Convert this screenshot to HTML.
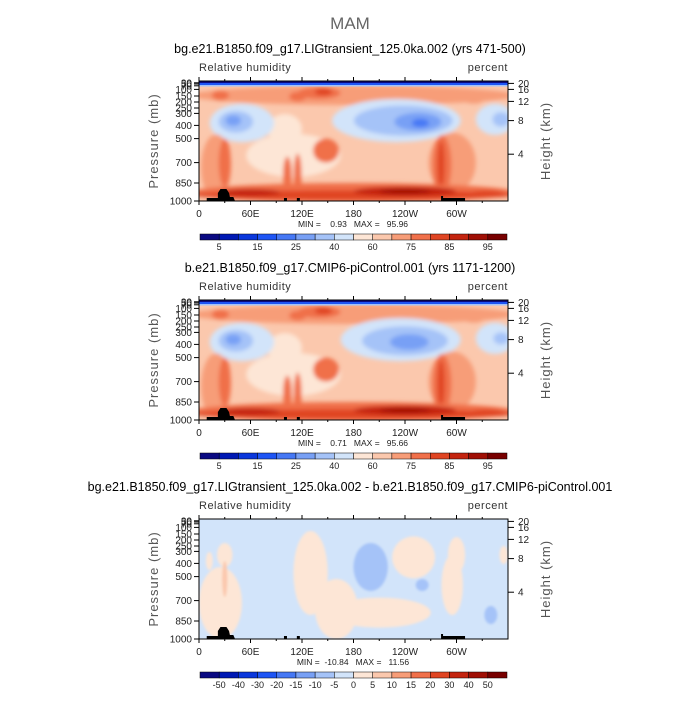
<!DOCTYPE html>
<html><head><meta charset="utf-8"><style>
body{margin:0;background:#fff;}
svg text{font-family:"Liberation Sans",sans-serif;white-space:pre;}
</style></head><body>
<svg id="chart" width="700" height="700" viewBox="0 0 700 700" xmlns="http://www.w3.org/2000/svg" xml:space="preserve">
<defs>
<filter id="bl" x="-50%" y="-50%" width="200%" height="200%"><feGaussianBlur stdDeviation="2.2"/></filter>
<filter id="bl2" x="-50%" y="-50%" width="200%" height="200%"><feGaussianBlur stdDeviation="1.2"/></filter>
</defs>
<text x="350" y="29" font-size="17" fill="#666" text-anchor="middle">MAM</text>
</svg>
<script>
const NS='http://www.w3.org/2000/svg';
const svg=document.getElementById('chart');
function el(t,a,p){const e=document.createElementNS(NS,t);for(const k in a)e.setAttribute(k,a[k]);(p||svg).appendChild(e);return e;}

// data arrays
const lonTicks=[0,60,120,180,240,300];
const lonLabels=['0','60E','120E','180','120W','60W'];
const presTicks=[1000,850,700,500,400,300,250,200,150,100,70,50,30];
const presFrac=[1,0.85,0.68,0.48,0.37,0.27,0.225,0.175,0.125,0.07,0.04,0.025,0.015];
const heightTicks=[20,16,12,8,4];
const heightFrac=[0.02,0.07,0.17,0.33,0.61];
const rhColors=['#0a0a82','#0019b4','#0a37dc','#1e55f5','#4678f5','#78a0f5','#a5c3f8','#d2e4fa','#fde6d6','#fbc8ad','#f79d78','#f0704a','#e04523','#c4240f','#a00f05','#780000'];
const rhLabels=['5','15','25','40','60','75','85','95'];
const diffLabels=['-50','-40','-30','-20','-15','-10','-5','0','5','10','15','20','30','40','50'];
const diffColors=['#0a0a82','#0019b4','#0a37dc','#1e55f5','#4678f5','#78a0f5','#a5c3f8','#d2e4fa','#fde6d6','#fbc8ad','#f79d78','#f0704a','#e04523','#c4240f','#a00f05','#780000'];
// blobs: [lon, presFrac, lonWidth, fracHeight, colorIndex]
const rhBlobs1=[[180,0.12,380,0.16,10],[25,0.12,20,0.08,11],[140,0.1,50,0.1,11],[145,0.09,20,0.06,12],[115,0.13,20,0.08,11],[320,0.15,25,0.08,10],
[110,0.62,110,0.36,8],[100,0.4,40,0.25,8],
[50,0.35,75,0.32,7],[43,0.34,40,0.18,6],[40,0.33,18,0.09,5],
[230,0.33,150,0.36,7],[238,0.33,115,0.25,6],[255,0.34,55,0.15,5],[258,0.35,20,0.07,4],[345,0.32,45,0.26,7],[352,0.32,20,0.12,6],
[20,0.72,35,0.55,10],[30,0.68,14,0.4,11],[103,0.78,10,0.3,11],[115,0.78,9,0.35,11],[148,0.58,30,0.2,11],
[295,0.68,55,0.5,10],[283,0.7,22,0.5,11],[282,0.7,8,0.4,12],[180,0.93,380,0.16,11],[180,0.95,380,0.08,12],[240,0.92,120,0.08,13],[240,0.92,60,0.04,14],[60,0.93,70,0.06,13],[335,0.94,40,0.06,12]];
const rhBlobs2=[[180,0.12,380,0.16,10],[25,0.12,20,0.08,11],[140,0.1,50,0.1,11],[145,0.09,20,0.06,12],[115,0.13,20,0.08,11],[320,0.15,25,0.08,10],
[110,0.62,110,0.36,8],[100,0.4,40,0.25,8],
[50,0.35,75,0.32,7],[43,0.34,40,0.18,6],[40,0.33,18,0.09,5],
[235,0.33,140,0.36,7],[240,0.34,100,0.24,6],[245,0.35,45,0.13,5],[345,0.32,45,0.26,7],[352,0.32,18,0.1,6],
[20,0.72,35,0.55,10],[30,0.68,14,0.4,11],[103,0.78,10,0.3,11],[115,0.78,9,0.35,11],[148,0.58,30,0.2,11],
[295,0.68,55,0.5,10],[283,0.7,22,0.5,11],[282,0.7,8,0.4,12],[180,0.93,380,0.16,11],[180,0.95,380,0.08,12],[240,0.92,120,0.08,13],[240,0.92,60,0.04,14],[60,0.93,70,0.06,13],[335,0.94,40,0.06,12]];
const diffBlobs=[[25,0.7,50,0.6,8],[30,0.3,18,0.2,8],[12,0.35,8,0.15,8],[130,0.45,40,0.7,8],[160,0.75,50,0.5,8],[210,0.78,120,0.25,8],
[250,0.32,50,0.35,8],[295,0.55,25,0.5,8],[300,0.3,20,0.3,8],[355,0.3,10,0.15,8],[200,0.4,40,0.4,6],[260,0.55,15,0.1,6],[340,0.8,15,0.15,6],[30,0.5,6,0.3,9]];

const X0=199,W=309,H=120;
function xS(lon){return X0+lon/360*W;}
function yS(top,f){return top+f*H;}

function panel(top,title,blobs,bg,cbColors,cbLabels,minmax,idx,diff){
  const g=el('g',{});
  
  
  const t=el('text',{x:350,y:top-28,'font-size':12.5,'text-anchor':'middle',fill:'#000'},g);t.textContent=title;
  
  const vn=el('text',{x:199,y:top-10,'font-size':11,fill:'#333','letter-spacing':'0.5'},g);vn.textContent='Relative humidity';
  
  const un=el('text',{x:508,y:top-10,'font-size':11,fill:'#333','text-anchor':'end','letter-spacing':'0.5'},g);un.textContent='percent';
  
  const cp=el('clipPath',{id:'cp'+idx},g);el('rect',{x:X0,y:top,width:W,height:H},cp);
  const f=el('g',{'clip-path':'url(#cp'+idx+')'},g);
  
  el('rect',{x:X0,y:top,width:W,height:H,fill:bg},f);
  const bf=el('g',{filter:diff?'url(#bl2)':'url(#bl)'},f);
  for(const b of blobs){
    const e=el('ellipse',{cx:xS(b[0]),cy:yS(top,b[1]),rx:b[2]/360*W/2,ry:b[3]*H/2,fill:cbColors[b[4]]},bf);
    
  }
  if(!diff){
    el('rect',{x:X0,y:top,width:W,height:2,fill:'#0a0a82'},f);
    el('rect',{x:X0,y:top+2,width:W,height:2,fill:'#1e55f5'},f);
    el('rect',{x:X0,y:top+4,width:W,height:1.5,fill:'#a5c3f8'},f);
  }
  const topo=el('path',{d:`M${xS(9)},${top+H} L${xS(9)},${top+H-3} L${xS(22)},${top+H-3} L${xS(22)},${top+H-8} L${xS(25)},${top+H-12} L${xS(32)},${top+H-12} L${xS(35)},${top+H-8} L${xS(36)},${top+H-4} L${xS(40)},${top+H-4} L${xS(42)},${top+H} Z M${xS(99)},${top+H} v-3 h3 v3Z M${xS(114)},${top+H} v-3 h3 v3Z M${xS(282)},${top+H} v-5 h2 v2 h22 v3Z`,fill:'#000'},f);
  
  el('rect',{x:X0,y:top,width:W,height:H,fill:'none',stroke:'#000','stroke-width':1},g);
  lonTicks.forEach((l,i)=>{
    el('line',{x1:xS(l),y1:top+H,x2:xS(l),y2:top+H+4,stroke:'#000'},g);
    el('line',{x1:xS(l),y1:top,x2:xS(l),y2:top-4,stroke:'#000'},g);
    el('line',{x1:xS(l+30),y1:top+H,x2:xS(l+30),y2:top+H+2,stroke:'#000'},g);
    el('line',{x1:xS(l+30),y1:top,x2:xS(l+30),y2:top-2,stroke:'#000'},g);
    const tx=el('text',{x:xS(l),y:top+H+16,'font-size':10,'text-anchor':'middle',fill:'#222'},g);tx.textContent=lonLabels[i];
    
  });
  presTicks.forEach((p,i)=>{
    const y=yS(top,presFrac[i]);
    el('line',{x1:X0,y1:y,x2:X0-5,y2:y,stroke:'#000'},g);
    const tx=el('text',{x:X0-7,y:y+3.5,'font-size':10,'text-anchor':'end',fill:'#222'},g);tx.textContent=p;
    
  });
  heightTicks.forEach((h,i)=>{
    const y=yS(top,heightFrac[i]);
    el('line',{x1:X0+W,y1:y,x2:X0+W+6,y2:y,stroke:'#000'},g);
    const tx=el('text',{x:X0+W+10,y:y+3.5,'font-size':10,fill:'#222'},g);tx.textContent=h;
    
  });
  const yl=el('text',{x:0,y:0,'font-size':13,'text-anchor':'middle',fill:'#555','letter-spacing':'1',transform:`translate(158,${top+60}) rotate(-90)`},g);yl.textContent='Pressure (mb)';
  
  const yr=el('text',{x:0,y:0,'font-size':13,'text-anchor':'middle',fill:'#555','letter-spacing':'1',transform:`translate(550,${top+60}) rotate(-90)`},g);yr.textContent='Height (km)';
  
  const mm=el('text',{x:353,y:top+H+26,'font-size':8.5,'text-anchor':'middle',fill:'#222'},g);mm.textContent=minmax;
  
  const cb=el('g',{},g);
  const cy=top+H+33,cw=307/cbColors.length;
  cbColors.forEach((c,i)=>{const r=el('rect',{x:200+i*cw,y:cy,width:cw,height:6,fill:c,stroke:'#000','stroke-width':0.5},cb);});
  cbLabels.forEach((l,i)=>{
    const xi=diff?200+(i+1)*cw:200+(2*i+1)*cw;
    const tx=el('text',{x:xi,y:cy+16,'font-size':9,'text-anchor':'middle',fill:'#222'},cb);tx.textContent=l;
    
  });
}
panel(81,'bg.e21.B1850.f09_g17.LIGtransient_125.0ka.002 (yrs 471-500)',rhBlobs1,'#fbc8ad',rhColors,rhLabels,'MIN =    0.93   MAX =   95.96',1,false);
panel(300,'b.e21.B1850.f09_g17.CMIP6-piControl.001 (yrs 1171-1200)',rhBlobs2,'#fbc8ad',rhColors,rhLabels,'MIN =    0.71   MAX =   95.66',2,false);
panel(519,'bg.e21.B1850.f09_g17.LIGtransient_125.0ka.002 - b.e21.B1850.f09_g17.CMIP6-piControl.001',diffBlobs,'#d2e4fa',diffColors,diffLabels,'MIN =  -10.84   MAX =   11.56',3,true);
</script>
</body></html>
